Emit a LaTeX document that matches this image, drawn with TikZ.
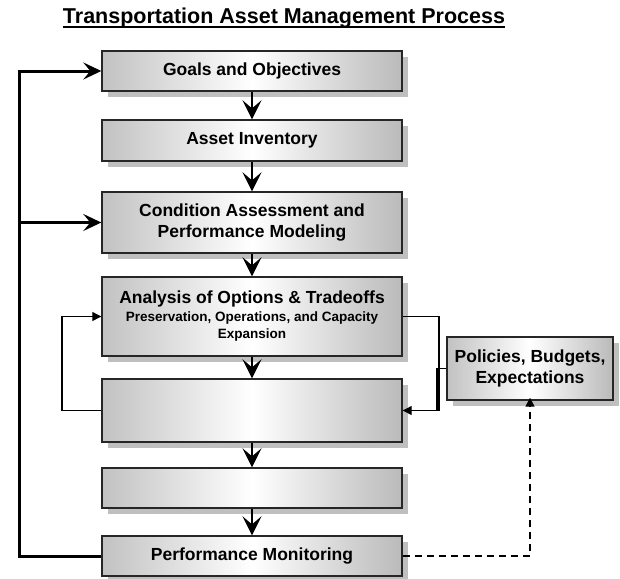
\documentclass[tikz,border=0pt]{standalone}
\usepackage{fontspec}
\setmainfont{Liberation Sans}
\usetikzlibrary{arrows.meta,shadows,positioning}
\newcommand{\subtxtfont}{\bfseries\fontsize{13.5}{17}\selectfont}

\begin{document}
\begin{tikzpicture}[x=1pt,y=-1pt,
    stepbox/.style={draw=black!85,line width=1.4pt,left color=black!24,right color=black!27,middle color=white,
      minimum width=300pt,inner sep=0pt,align=center,font=\bfseries\fontsize{17.5}{21}\selectfont,
      general shadow={fill=black!25,shadow xshift=6pt,shadow yshift=-6pt}},
    flow/.style={line width=1.6pt,-{Stealth[length=19pt,width=19pt,inset=8pt]}},
    feed/.style={line width=3pt,-{Stealth[length=18pt,width=17pt,inset=7pt]}},
    link/.style={line width=1.2pt,-{Triangle[length=9pt,width=9pt]}}]
\useasboundingbox (0,0) rectangle (620,578);

% title
\node[font=\bfseries\fontsize{21.5}{25}\selectfont,inner sep=0pt] (title) at (284,18) {Transportation Asset Management Process};
\draw[line width=1.7pt] ([yshift=-3.5pt]title.base west) -- ([yshift=-3.5pt]title.base east);

%Shape: Rectangles of the process
\node[stepbox,minimum height=40pt] (goals) at (252,71) {Goals and Objectives};
\node[stepbox,minimum height=41pt] (inv) at (252,140.5) {Asset Inventory};
\node[stepbox,minimum height=61pt] (cond) at (252,222.5) {Condition Assessment and\\Performance Modeling};
\node[stepbox,minimum height=79pt] (anal) at (252,316.5) {Analysis of Options \& Tradeoffs\\[-3pt]{\subtxtfont Preservation, Operations, and Capacity}\\[-4pt]{\subtxtfont Expansion}};
\node[stepbox,minimum height=63pt] (dec) at (252,410.5) {};
\node[stepbox,minimum height=40pt] (prog) at (252,488) {};
\node[stepbox,minimum height=40pt] (perf) at (252,556) {Performance Monitoring};
\node[stepbox,minimum width=166pt,minimum height=63pt] (pol) at (530,368.5) {Policies, Budgets,\\Expectations};

%Straight Lines down the chain
\draw[flow] (goals) -- (inv);
\draw[flow] (inv) -- (cond);
\draw[flow] (cond) -- (anal);
\draw[flow] (anal) -- (dec);
\draw[flow] (dec) -- (prog);
\draw[flow] (prog) -- (perf);

% feedback from monitoring
\coordinate (fbk) at (19,556);
\draw[feed] (perf.west) -- (fbk) |- (goals.west);
\draw[line width=2.2pt,-{Stealth[length=18pt,width=17pt,inset=7pt]}] (fbk |- cond.west) -- (cond.west);

% loops round the analysis
\coordinate (lp) at (62,410.5);
\coordinate (rt) at (439,410.5);
\coordinate (jn) at (437,410.5);
\draw[link] (dec.west) -- (lp) |- (anal.west);
\draw[link] (anal.east) -| (rt) -- (dec.east);
\draw[line width=1.2pt] (pol.west) -| (jn);

% dashed link to policies
\draw[link,line width=1.6pt,dash pattern=on 7pt off 5pt] (perf.east) -| ([yshift=3pt]pol.south);
\end{tikzpicture}
\end{document}
